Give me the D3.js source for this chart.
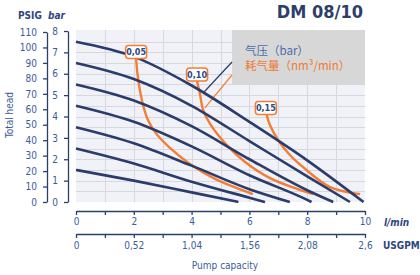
<!DOCTYPE html>
<meta charset="utf-8">
<style>
    body { margin: 0; background: #fff; }
    svg { display: block; }
    .tick text, .lbl { font-family: "Liberation Sans Narrow", "DejaVu Sans Condensed", sans-serif; }
    .axis path, .axis line { stroke: #2b3f6f; stroke-width: 1.3px; }
    .axis text { fill: #3b5c9c; font-size: 10px; }
    .grid line { stroke: #d6d8de; stroke-width: 1px; }
    .pline { fill: none; stroke: #2a3b6c; stroke-width: 2.6px; }
    .aline { fill: none; stroke: #f47d35; stroke-width: 2.4px; }
</style>

<svg width="420" height="275"></svg>
<script src="https://d3js.org/d3.v7.min.js"></script>
<script>

    // pressure curves (bar vs l/min), top curve first
    var pressureCurves = [
        [[0, 7.5], [2, 6.8], [4, 5.45], [6, 3.75], [8, 1.95], [9.95, 0]],
        [[0, 6.5], [2, 5.75], [4, 4.5], [6, 2.85], [8, 1.2], [9.48, 0]],
        [[0, 5.5], [2, 4.75], [4, 3.55], [6, 2.0], [8, 0.55], [8.9, 0]],
        [[0, 4.5], [2, 3.75], [4, 2.6], [6, 1.25], [8, 0.1], [8.15, 0]],
        [[0, 3.5], [2, 2.75], [4, 1.7], [6, 0.6], [7.4, 0]],
        [[0, 2.5], [2, 1.8], [4, 0.95], [6, 0.2], [6.54, 0]],
        [[0, 1.5], [2, 1.0], [4, 0.45], [5.62, 0]]
    ];

    // air consumption curves (nm3/min), first point is where the tag sits
    var airLabels = ["0,05", "0,10", "0,15"];
    var airCurves = [
        [[2.08, 7.02], [2.08, 6.69], [2.18, 5.47], [2.32, 4.54], [2.49, 3.84], [2.77, 3.21], [3.25, 2.53], [3.94, 1.78], [4.81, 1.08], [6.12, 0.37]],
        [[4.19, 5.96], [4.19, 5.68], [4.29, 5.05], [4.39, 4.35], [4.64, 3.65], [5.21, 2.67], [5.85, 1.87], [6.71, 1.12], [8.2, 0.37]],
        [[6.57, 4.4], [6.6, 4.07], [6.71, 3.6], [6.99, 2.9], [7.4, 2.2], [7.85, 1.64], [8.79, 0.70], [9.83, 0.37]]
    ];

    var lminTicks = [0, 1, 2, 3, 4, 5, 6, 7, 8, 9, 10];
    var gpmTicks = [0, 0.26, 0.52, 0.78, 1.04, 1.3, 1.56, 1.82, 2.08, 2.34, 2.6];
    var gpmLabels = ["0", "0,52", "1,04", "1,56", "2,08", "2,6"];
    var barTicks = [0, 1, 2, 3, 4, 5, 6, 7, 8];
    var psigTicks = [0, 10, 20, 30, 40, 50, 60, 70, 80, 90, 100, 110];

    var svg = d3.select("svg");
    var plot = { left: 76, right: 365, top: 31, bottom: 202 };

    var x = d3.scaleLinear().domain([0, 10]).range([plot.left, plot.right]);
    var gpm = d3.scaleLinear().domain([0, 2.6]).range([plot.left, plot.right]);
    var y = d3.scaleLinear().domain([0, 8]).range([plot.bottom, plot.top]);
    var psig = d3.scaleLinear().domain([0, 110]).range([plot.bottom, 32]);

    // background + grid
    svg.append("rect")
        .attr("x", plot.left).attr("y", plot.top - 1)
        .attr("width", plot.right - plot.left).attr("height", plot.bottom - plot.top + 1)
        .attr("fill", "#f1f2f7");

    var grid = svg.append("g").attr("class", "grid");
    grid.selectAll(".v").data(lminTicks.slice(1, -1)).enter().append("line")
        .attr("x1", function (d) { return Math.round(x(d)) + 0.5; })
        .attr("x2", function (d) { return Math.round(x(d)) + 0.5; })
        .attr("y1", plot.top - 1).attr("y2", plot.bottom);
    grid.selectAll(".h").data(d3.range(0.5, 8, 0.5)).enter().append("line")
        .attr("y1", function (d) { return Math.round(y(d)) + 0.5; })
        .attr("y2", function (d) { return Math.round(y(d)) + 0.5; })
        .attr("x1", plot.left).attr("x2", plot.right);

    // legend box
    svg.append("rect")
        .attr("x", 232).attr("y", 30).attr("width", 133).attr("height", 55)
        .attr("fill", "#d7d7d7");

    var line = d3.line()
        .x(function (d) { return x(d[0]); })
        .y(function (d) { return y(d[1]); });

    // leader lines from the legend
    svg.append("line")
        .attr("x1", x(4.4)).attr("y1", y(5.1)).attr("x2", 232).attr("y2", 62)
        .attr("stroke", "#2a3b6c").attr("stroke-width", 1.2);
    svg.append("line")
        .attr("x1", x(4.46)).attr("y1", y(4.4)).attr("x2", 232).attr("y2", 75)
        .attr("stroke", "#f47d35").attr("stroke-width", 1.2);

    svg.append("g").selectAll("path").data(airCurves).enter().append("path")
        .attr("class", "aline")
        .attr("d", line.curve(d3.curveCatmullRom.alpha(0.5)));

    svg.append("g").selectAll("path").data(pressureCurves).enter().append("path")
        .attr("class", "pline")
        .attr("d", line.curve(d3.curveMonotoneX));

    // curve tags
    var tag = svg.append("g").selectAll("g").data(airCurves).enter().append("g")
        .attr("transform", function (d) { return "translate(" + x(d[0][0]) + "," + y(d[0][1]) + ")"; });
    tag.append("rect")
        .attr("x", -10.5).attr("y", -6.5).attr("width", 21).attr("height", 13).attr("rx", 3)
        .attr("fill", "#fff").attr("stroke", "#f47d35").attr("stroke-width", 1.5);
    tag.append("text")
        .attr("class", "lbl")
        .attr("text-anchor", "middle").attr("dy", "0.35em")
        .attr("font-size", 9).attr("font-weight", "bold").attr("fill", "#2b4a85")
        .text(function (d, i) { return airLabels[i]; });

    // axes
    svg.append("g").attr("class", "axis")
        .attr("transform", "translate(47,0)")
        .call(d3.axisLeft(psig).tickValues(psigTicks).tickSize(4).tickSizeOuter(0).tickPadding(6));
    svg.append("g").attr("class", "axis")
        .attr("transform", "translate(68,0)")
        .call(d3.axisLeft(y).tickValues(barTicks).tickSize(4).tickSizeOuter(0).tickPadding(6));

    svg.append("g").attr("class", "axis")
        .attr("transform", "translate(0,211)")
        .call(d3.axisBottom(x).tickValues(lminTicks).tickSize(4).tickSizeOuter(0).tickPadding(3)
            .tickFormat(function (d) { return d % 2 === 0 ? d : ""; }));
    svg.append("g").attr("class", "axis")
        .attr("transform", "translate(0,234)")
        .call(d3.axisBottom(gpm).tickValues(gpmTicks).tickSize(4).tickSizeOuter(0).tickPadding(4)
            .tickFormat(function (d, i) { return i % 2 === 0 ? gpmLabels[i / 2] : ""; }));

    // titles and unit labels
    function label(tx, ty, str, size, color, weight, style, anchor) {
        return svg.append("text").attr("class", "lbl")
            .attr("x", tx).attr("y", ty)
            .attr("font-size", size).attr("fill", color)
            .attr("font-weight", weight || "normal").attr("font-style", style || "normal")
            .attr("text-anchor", anchor || "start")
            .text(str);
    }

    label(363, 18, "DM 08/10", 18, "#2d3e6a", "bold", null, "end");
    label(18, 19, "PSIG", 10, "#2d4680", "bold");
    label(48, 19, "bar", 10, "#2d4680", "bold", "italic");
    label(384, 226, "l/min", 10, "#2d4680", "bold", "italic");
    label(383, 249, "USGPM", 10, "#2d4680", "bold");
    label(225, 269, "Pump capacity", 10, "#3b5c9c", null, null, "middle");
    label(0, 0, "Total head", 10, "#3b5c9c", null, null, "middle")
        .attr("transform", "translate(13,115) rotate(-90)");

    svg.append("text").attr("x", 245).attr("y", 55)
        .attr("font-family", "'Noto Sans CJK SC', sans-serif").attr("font-size", 11.5)
        .attr("fill", "#4c6ea8").text("气压（bar）");
    svg.append("text").attr("x", 245).attr("y", 70)
        .attr("font-family", "'Noto Sans CJK SC', sans-serif").attr("font-size", 11.5)
        .attr("fill", "#ef7a2e").text("耗气量（nm³/min）");

</script>
